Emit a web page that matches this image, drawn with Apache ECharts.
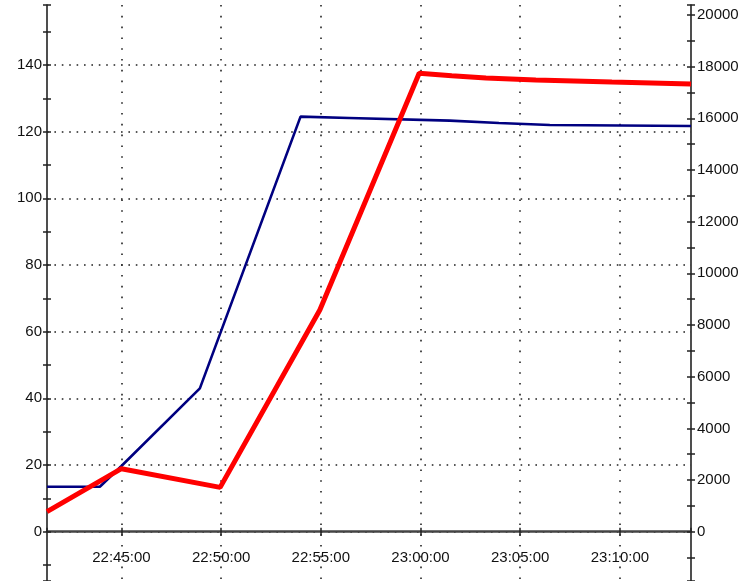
<!DOCTYPE html>
<html>
<head>
<meta charset="utf-8">
<script src="https://cdn.jsdelivr.net/npm/echarts@6/dist/echarts.min.js"></script>
<style>
html,body{margin:0;padding:0;background:#fff;}
#chart{width:743px;height:581px;}
</style>
</head>
<body>
<div id="chart"></div>
<script>
// ---- data ----
const blueTimes  = ['22:41:16','22:43:55','22:45:00','22:48:56','22:53:59','22:56:25','23:01:28','23:03:56','23:06:29','23:13:34'];
const blueValues = [13.5, 13.5, 19.7, 43.0, 124.5, 124.1, 123.3, 122.6, 122.0, 121.7];
const redTimes   = ['22:41:16','22:45:00','22:49:57','22:54:57','22:59:56','23:01:34','23:03:17','23:05:47','23:09:36','23:13:34'];
const redValues  = [6.0, 18.9, 13.3, 66.5, 137.5, 136.8, 136.1, 135.5, 134.9, 134.3];
const xRange     = ['22:41:16','23:13:34'];
const leftRange  = [-14.79, 158.0];
const rightRange = [-1908, 20387];

function toMin(s){ const p = s.split(':').map(Number); return p[0]*60 + p[1] + p[2]/60; }
function pad(n){ return (n < 10 ? '0' : '') + n; }
function fmtTime(v){
  const t = Math.round(v*60);
  const h = Math.floor(t/3600), m = Math.floor((t%3600)/60), s = t%60;
  return pad(h)+':'+pad(m)+':'+pad(s);
}
const blueData = blueTimes.map((t,i)=>[toMin(t), blueValues[i]]);
const redData  = redTimes.map((t,i)=>[toMin(t), redValues[i]]);

const FONT = '"Liberation Sans Narrow","Arial Narrow","Liberation Sans",sans-serif';
const labelStyle = {fontFamily: FONT, fontSize: 15, color: '#111'};

const xBase = {
  type: 'value', min: toMin(xRange[0]), max: toMin(xRange[1]),
  minInterval: 5, maxInterval: 5, scale: true
};
const yLeftBase  = {type:'value', position:'left',  min:leftRange[0],  max:leftRange[1],  minInterval:20,   maxInterval:20};
const yRightBase = {type:'value', position:'right', min:rightRange[0], max:rightRange[1], minInterval:2000, maxInterval:2000};

const tickStyle = {color:'#222', width:1.5};

const option = {
  animation: false,
  backgroundColor: '#fff',
  grid: {left: 47, right: 52, top: 5, bottom: 0, containLabel: false, outerBoundsMode: 'none'},
  xAxis: [
    Object.assign({}, xBase, {
      position: 'bottom',
      axisLine: {show: true, onZero: true, lineStyle: {color: '#444', width: 2.5}},
      axisTick: {show: true, inside: false, length: 4, lineStyle: tickStyle},
      axisLabel: Object.assign({show: true, margin: -31, showMinLabel: false, showMaxLabel: false,
        hideOverlap: false, formatter: v => fmtTime(v)}, labelStyle),
      splitLine: {show: true, showMinLine: false, showMaxLine: false,
        lineStyle: {color: '#222', width: 1.6, type: [1.6, 9.2]}}
    }),
    Object.assign({}, xBase, {
      position: 'top',
      axisLine: {show: false, onZero: true},
      axisTick: {show: true, inside: false, length: 4, lineStyle: tickStyle},
      axisLabel: {show: false},
      splitLine: {show: false}
    })
  ],
  yAxis: [
    Object.assign({}, yLeftBase, {
      axisLine: {show: true, onZero: false, lineStyle: {color: '#222', width: 1.6}},
      axisTick: {show: true, inside: false, length: 4, lineStyle: tickStyle},
      minorTick: {show: true, splitNumber: 2, length: 4, lineStyle: tickStyle},
      axisLabel: Object.assign({show: true, margin: 5, showMinLabel: false, showMaxLabel: false,
        formatter: v => String(v)}, labelStyle),
      splitLine: {show: true, showMinLine: false, showMaxLine: false,
        lineStyle: {color: '#222', width: 1.6, type: [1.6, 5.8]}}
    }),
    Object.assign({}, yLeftBase, {
      axisLine: {show: false, onZero: false},
      axisTick: {show: true, inside: true, length: 4, lineStyle: tickStyle},
      minorTick: {show: true, splitNumber: 2, length: 4, lineStyle: tickStyle},
      axisLabel: {show: false},
      splitLine: {show: false}
    }),
    Object.assign({}, yRightBase, {
      axisLine: {show: true, onZero: false, lineStyle: {color: '#222', width: 1.6}},
      axisTick: {show: true, inside: false, length: 4, lineStyle: tickStyle},
      minorTick: {show: true, splitNumber: 2, length: 4, lineStyle: tickStyle},
      axisLabel: Object.assign({show: true, margin: 6, showMinLabel: false, showMaxLabel: false,
        formatter: v => String(v)}, labelStyle),
      splitLine: {show: false}
    }),
    Object.assign({}, yRightBase, {
      axisLine: {show: false, onZero: false},
      axisTick: {show: true, inside: true, length: 4, lineStyle: tickStyle},
      minorTick: {show: true, splitNumber: 2, length: 4, lineStyle: tickStyle},
      axisLabel: {show: false},
      splitLine: {show: false}
    })
  ],
  series: [
    {
      type: 'line', xAxisIndex: 0, yAxisIndex: 0, data: blueData,
      symbol: 'none', clip: true,
      lineStyle: {color: '#000080', width: 2.6}
    },
    {
      type: 'line', xAxisIndex: 0, yAxisIndex: 0, data: redData,
      symbol: 'none', clip: true,
      lineStyle: {color: '#ff0000', width: 5}
    }
  ]
};

const chart = echarts.init(document.getElementById('chart'), null, {renderer: 'canvas'});
chart.setOption(option);
</script>
</body>
</html>
